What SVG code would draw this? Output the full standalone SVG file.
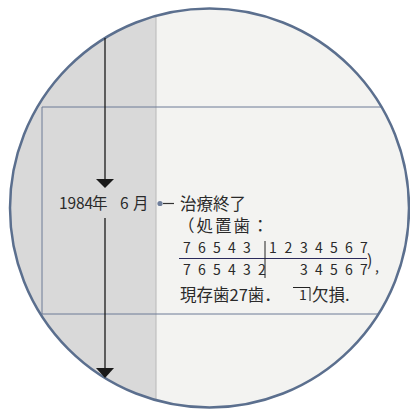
<svg xmlns="http://www.w3.org/2000/svg" width="410" height="411" viewBox="0 0 410 411">
<style>
.t{font-family:"Noto Sans CJK JP","Noto Sans",sans-serif;fill:#2a2a2a}
.g{stroke:#6c7a96;stroke-width:1;fill:none}
</style>
<defs>
<clipPath id="c"><circle cx="209.5" cy="208" r="199.5"/></clipPath>
</defs>
<rect width="410" height="411" fill="#fff"/>
<g id="background" clip-path="url(#c)">
<rect x="0" y="0" width="410" height="411" fill="#f3f3f1"/>
<rect x="0" y="0" width="156" height="411" fill="#d9d9d9"/>
<line x1="156" y1="0" x2="156" y2="411" stroke="#b8b8b8" stroke-width="1"/>
<line class="g" x1="42" y1="107" x2="410" y2="107"/>
<line class="g" x1="42" y1="314" x2="410" y2="314"/>
<line class="g" x1="42" y1="107" x2="42" y2="314"/>
</g>
<circle cx="209.5" cy="208" r="199.5" fill="none" stroke="#5b6f8e" stroke-width="2.5"/>
<g id="connectors">
<line x1="105" y1="38" x2="105" y2="182" stroke="#1a1a1a" stroke-width="1.3"/>
<path d="M96,179 L114,179 L105,188 Z" fill="#1a1a1a"/>
<line x1="105" y1="218" x2="105" y2="372" stroke="#1a1a1a" stroke-width="1.3"/>
<path d="M96,368 L114,368 L105,378 Z" fill="#1a1a1a"/>
<circle cx="160" cy="203.5" r="2.6" fill="#6f7f9c"/>
<line x1="163" y1="203.5" x2="174" y2="203.5" stroke="#333" stroke-width="1.2"/>
</g>
<g id="date">
<text class="t" y="209" font-size="15.5" x="59 67.5 76 84.5 92"><tspan>1984年</tspan><tspan x="120">6</tspan><tspan x="133">月</tspan></text>
</g>
<g id="note">
<text class="t" x="180" y="210" font-size="16.5">治療終了</text>
<text class="t" x="178" y="232" font-size="16.5" letter-spacing="2">（処置歯：</text>
<text class="t" font-size="14" y="253" x="183 198 213 228 243">76543</text>
<text class="t" font-size="14" y="253" x="269 284.5 300 315 330 345 360">1234567</text>
<text class="t" font-size="14" y="274.5" x="183 198 213 228 243 258">765432</text>
<text class="t" font-size="14" y="274.5" x="300 315 330 345 360">34567</text>
<line x1="179" y1="258.5" x2="367" y2="258.5" stroke="#2a2a5a" stroke-width="1"/>
<line x1="265" y1="241" x2="265" y2="278" stroke="#222" stroke-width="1"/>
<text class="t" x="367" y="266" font-size="16">)</text>
<text class="t" x="375" y="272" font-size="14">,</text>
<text class="t" x="180" y="301" font-size="16.5">現存歯27歯．</text>
<path d="M293,287.5 L310,287.5 L310,301" stroke="#222" stroke-width="1" fill="none"/>
<text class="t" x="299" y="300" font-size="14">1</text>
<text class="t" x="312" y="301" font-size="16.5">欠損.</text>
</g>
</svg>
